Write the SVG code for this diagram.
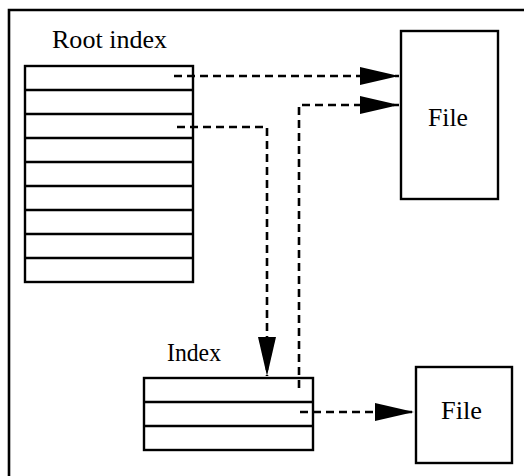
<svg xmlns="http://www.w3.org/2000/svg" width="524" height="476" viewBox="0 0 524 476">
<style>
.box{fill:#fff;stroke:#000;stroke-width:2.4}
.row{stroke:#000;stroke-width:2.4;fill:none}
.conn{fill:none;stroke:#000;stroke-width:2.6;stroke-dasharray:8 5}
</style>
<defs>
<marker id="ah" markerUnits="userSpaceOnUse" markerWidth="40" markerHeight="18" refX="39" refY="9" orient="auto" overflow="visible">
<path d="M0,0 L39,9 L0,18 Z" fill="#000" stroke="none"/>
</marker>
</defs>
<rect width="524" height="476" fill="#fff"/>
<path d="M9,480 V10 H530" fill="none" stroke="#000" stroke-width="2.6"/>
<g id="root-index">
<text font-family="Liberation Serif, DejaVu Serif, serif" font-size="25" x="52" y="48" textLength="115" lengthAdjust="spacingAndGlyphs">Root index</text>
<rect class="box" x="25" y="66" width="168" height="216"/>
<path class="row" d="M25,90H193M25,114H193M25,138H193M25,162H193M25,186H193M25,210H193M25,234H193M25,258H193"/>
</g>
<g id="file-top">
<rect class="box" x="401" y="31" width="97" height="168"/>
<text font-family="Liberation Serif, DejaVu Serif, serif" font-size="25" x="428" y="126" textLength="40" lengthAdjust="spacingAndGlyphs">File</text>
</g>
<g id="index">
<text font-family="Liberation Serif, DejaVu Serif, serif" font-size="25" x="167" y="361" textLength="54" lengthAdjust="spacingAndGlyphs">Index</text>
<rect class="box" x="144" y="378" width="169" height="72"/>
<path class="row" d="M144,402H313M144,426H313"/>
</g>
<g id="file-bottom">
<rect class="box" x="416" y="367" width="96" height="96"/>
<text font-family="Liberation Serif, DejaVu Serif, serif" font-size="25" x="441" y="419" textLength="41" lengthAdjust="spacingAndGlyphs">File</text>
</g>
<g id="connectors">
<path class="conn" d="M174,76 H399" marker-end="url(#ah)"/>
<path class="conn" d="M177,127 H267 V376" marker-end="url(#ah)"/>
<path class="conn" d="M299,388 V105 H399" marker-end="url(#ah)"/>
<path class="conn" d="M300,412 H414" marker-end="url(#ah)"/>
</g>
</svg>
